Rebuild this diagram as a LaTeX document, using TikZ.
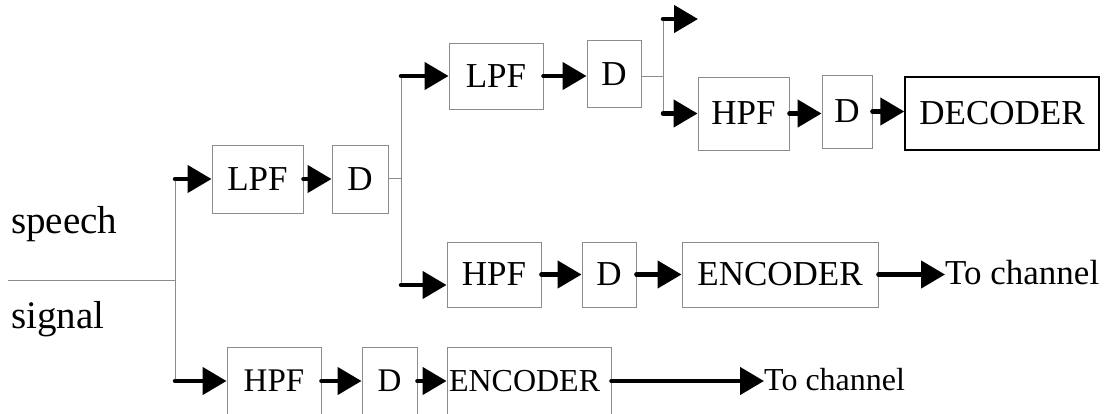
\documentclass[tikz,border=0pt]{standalone}
\usepackage{fontspec}
\setmainfont{Liberation Serif}
\usetikzlibrary{arrows.meta}
\tikzset{
	blk/.style={draw=black!45, line width=0.9pt, inner sep=0pt, font=\fontsize{35}{40}\selectfont},
	sig/.style={line width=4.5pt, line cap=round, -{Triangle[length=24pt,width=27pt]}},
	wire/.style={draw=black!45, line width=0.9pt},
	lbl/.style={anchor=base west, inner sep=0pt},
}
\begin{document}
\begin{tikzpicture}[x=1pt,y=-1pt]
	\clip (0,0) rectangle (1107,413) ;
	% input
	\node (speech)[lbl, font=\fontsize{39}{44}\selectfont] at (11,233) {speech} ;
	\node (signal)[lbl, font=\fontsize{39}{44}\selectfont] at (11,328) {signal} ;
	\coordinate (sigin) at (8,280) ;
	\coordinate (j0) at (175,280) ;
	\coordinate (j1) at (401,178) ;
	\coordinate (j1b) at (401,285) ;
	\coordinate (j2) at (663,76) ;
	\coordinate (outtop) at (698,19) ;
	% first level
	\node (lpfa)[blk, minimum width=91pt, minimum height=68pt] at (257.5,179) {LPF} ;
	\node (da)[blk, minimum width=56pt, minimum height=68pt] at (360,179) {D} ;
	\node (hpfc)[blk, minimum width=94pt, minimum height=68pt, font=\fontsize{33}{38}\selectfont] at (274,381) {HPF} ;
	\node (de)[blk, minimum width=55pt, minimum height=68pt, font=\fontsize{33}{38}\selectfont] at (389.5,381) {D} ;
	\node (encb)[blk, minimum height=68pt, text width=160pt, inner xsep=2pt, align=left, font=\fontsize{32}{37}\selectfont] at (529,381) {ENCODER} ;
	\node (chanb)[anchor=west, inner sep=0pt, font=\fontsize{32}{37}\selectfont] at (764,380) {To channel} ;
	% second level
	\node (lpfb)[blk, minimum width=94pt, minimum height=66pt] at (496,76) {LPF} ;
	\node (db)[blk, minimum width=54pt, minimum height=67pt] at (614,74) {D} ;
	\node (hpfa)[blk, minimum width=94pt, minimum height=65pt] at (494,274.5) {HPF} ;
	\node (dd)[blk, minimum width=54pt, minimum height=65pt] at (609,274.5) {D} ;
	\node (enca)[blk, minimum width=196pt, minimum height=65pt] at (780,274.5) {ENCODER} ;
	\node (chana)[anchor=west, inner sep=0pt, font=\fontsize{35}{40}\selectfont] at (945,273) {To channel} ;
	% third level
	\node (hpfb)[blk, minimum width=91pt, minimum height=73pt] at (743.5,113.5) {HPF} ;
	\node (dc)[blk, minimum width=50pt, minimum height=73pt] at (847,111.5) {D} ;
	\node (dec)[blk, draw=black, line width=1.4pt, minimum width=194pt, minimum height=73pt] at (1002,113.5) {DECODER} ;
	% wires
	\draw[wire] (sigin) -- (j0) ;
	\draw[wire] (j0 |- lpfa) -- (j0 |- hpfc) ;
	\draw[wire] (da.east |- j1) -- (j1) ;
	\draw[wire] (j1 |- lpfb) -- (j1b) ;
	\draw[wire] (db.east |- j2) -- (j2) ;
	\draw[wire] (j2 |- outtop) -- (j2 |- hpfb) ;
	% arrows
	\draw[sig] (j0 |- lpfa) -- (lpfa) ;
	\draw[sig] (lpfa) -- (lpfa -| da.west) ;
	\draw[sig] (j0 |- hpfc) -- (hpfc) ;
	\draw[sig] (hpfc) -- (hpfc -| de.west) ;
	\draw[sig] (de) -- (de -| encb.west) ;
	\draw[sig] (encb.east) -- (encb.east -| chanb.west) ;
	\draw[sig] (j1 |- lpfb) -- (lpfb) ;
	\draw[sig] (lpfb) -- (lpfb -| db.west) ;
	\draw[sig] (j1b) -- (j1b -| hpfa.west) ;
	\draw[sig] (hpfa) -- (hpfa -| dd.west) ;
	\draw[sig] (dd) -- (dd -| enca.west) ;
	\draw[sig] (enca.east) -- (enca.east -| chana.west) ;
	\draw[sig] (j2 |- outtop) -- (outtop) ;
	\draw[sig] (j2 |- hpfb) -- (hpfb) ;
	\draw[sig] (hpfb) -- (hpfb -| dc.west) ;
	\draw[sig] (dc) -- (dc -| dec.west) ;
\end{tikzpicture}
\end{document}
